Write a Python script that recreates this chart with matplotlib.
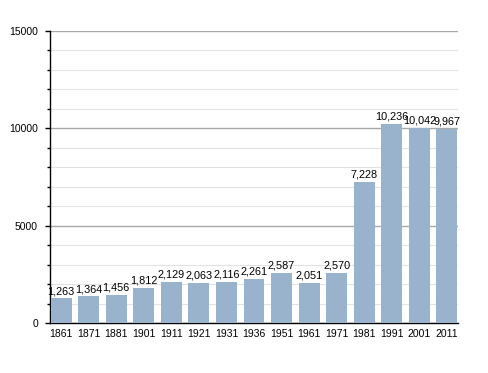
import numpy as np
import matplotlib.pyplot as plt
from matplotlib.ticker import MultipleLocator

years = ["1861", "1871", "1881", "1901", "1911", "1921", "1931", "1936",
         "1951", "1961", "1971", "1981", "1991", "2001", "2011"]
population = [1263, 1364, 1456, 1812, 2129, 2063, 2116, 2261,
              2587, 2051, 2570, 7228, 10236, 10042, 9967]

plt.rcParams['font.family'] = ['Liberation Sans', 'DejaVu Sans']
plt.rcParams['font.size'] = 7.5

fig = plt.figure(figsize=(4.88, 3.73), dpi=100)
ax = fig.add_axes([50/488, 50/373, 408/488, 292/373])

x = np.arange(len(years))
bars = ax.bar(x, population, width=0.76, color="#9ab3cd", zorder=3)

# ラベル
for xi, v in zip(x, population):
    ax.text(xi, v + 120, f"{v:,}", ha='center', va='bottom', fontsize=7.8, zorder=4)

ax.set_xlim(-0.4, 14.4)
ax.set_ylim(0, 15000)
ax.set_xticks(x)
ax.set_xticklabels(years)
ax.yaxis.set_major_locator(MultipleLocator(5000))
ax.yaxis.set_minor_locator(MultipleLocator(1000))

# グリッド
ax.grid(axis='y', which='major', color="#a8a8a8", linewidth=1.0, zorder=1)
ax.grid(axis='y', which='minor', color="#e2e2e2", linewidth=0.8, zorder=1)
ax.set_axisbelow(True)

ax.tick_params(axis='x', length=0, pad=4)
ax.tick_params(axis='y', which='major', length=3.6, width=1.0, pad=5)
ax.tick_params(axis='y', which='minor', length=2.2, width=1.0)

for s in ['top', 'right']:
    ax.spines[s].set_visible(False)
ax.spines['left'].set_linewidth(1.0)
ax.spines['bottom'].set_linewidth(1.0)

fig.savefig("out.png", dpi=100)
